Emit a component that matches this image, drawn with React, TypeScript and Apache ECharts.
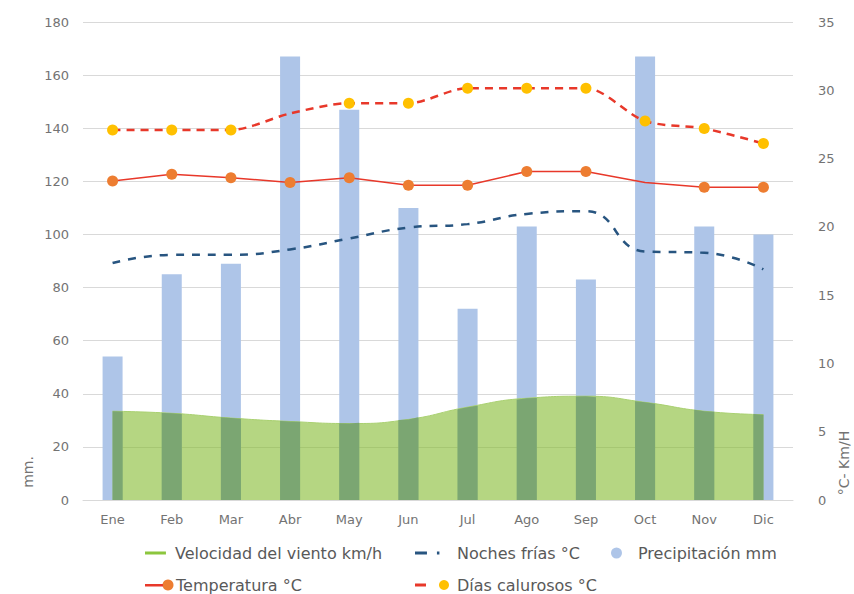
import React, { useEffect, useRef } from "react";
import * as echarts from "echarts";

const months = ["Ene", "Feb", "Mar", "Abr", "May", "Jun", "Jul", "Ago", "Sep", "Oct", "Nov", "Dic"];
const precipitacion = [54, 85, 89, 167, 147, 110, 72, 103, 83, 167, 103, 100];
const viento = [6.5, 6.35, 6.0, 5.75, 5.6, 5.9, 6.8, 7.45, 7.6, 7.15, 6.5, 6.25];
const nochesFrias = [17.35, 17.95, 17.95, 18.35, 19.15, 19.95, 20.2, 20.95, 21.15, 18.2, 18.1, 16.9];
const temperatura = [23.35, 23.85, 23.6, 23.25, 23.6, 23.05, 23.05, 24.05, 24.05, 23.25, 22.9, 22.9];
const diasCalurosos = [27.1, 27.1, 27.1, 28.3, 29.05, 29.05, 30.15, 30.15, 30.15, 27.75, 27.2, 26.1];
const leftTicks = { min: 0, max: 180, interval: 20 };
const rightTicks = { min: 0, max: 35, interval: 5 };

const FONT = "'DejaVu Sans', 'Noto Sans', sans-serif";
const TXT = "#595959";
const TICK = "#737373";

export default function App() {
  const ref = useRef<HTMLDivElement>(null);
  useEffect(() => {
    if (!ref.current) return;
    const chart = echarts.init(ref.current, undefined, { renderer: "svg" });
    const legendCommon = {
      padding: 0,
      selectedMode: false,
      textStyle: { color: TXT, fontSize: 16, fontFamily: FONT, lineHeight: 20 },
    };
    const row1 = 543;
    const row2 = 575;
    const half = 10;
    chart.setOption({
      animation: false,
      textStyle: { fontFamily: FONT },
      grid: { left: 83, right: 61, top: 22, bottom: 94 },
      legend: [
        {
          ...legendCommon,
          left: 145,
          top: row1,
          itemWidth: 25,
          itemHeight: 3,
          data: [
            {
              name: "Velocidad del viento km/h",
              icon: "path://M0,0h21v3h-21z M25,3h0.01v0.01h-0.01z",
              itemStyle: { color: "#8cc63e" },
            },
          ],
        },
        {
          ...legendCommon,
          left: 415,
          top: row1,
          itemWidth: 37,
          itemHeight: 3,
          data: [
            {
              name: "Noches frías °C",
              icon: "path://M0,0h12v3h-12z M22,0h2.5v3h-2.5z M37,3h0.01v0.01h-0.01z",
              itemStyle: { color: "#285580" },
            },
          ],
        },
        {
          ...legendCommon,
          left: 611,
          top: row1,
          itemWidth: 22,
          itemHeight: 11,
          data: [
            {
              name: "Precipitación mm",
              icon: "path://M0,5.5a5.5,5.5 0 1,0 11,0a5.5,5.5 0 1,0 -11,0z M22,11h0.01v0.01h-0.01z",
              itemStyle: { color: "#aec5e8" },
            },
          ],
        },
        {
          ...legendCommon,
          left: 145,
          top: row2,
          itemWidth: 26,
          itemHeight: 11,
          data: [
            {
              name: "Temperatura °C",
              icon: "path://M0,4.5h18v2.5h-18z M0,0h0.01v0.01h-0.01z M26,11h0.01v0.01h-0.01z",
              itemStyle: { color: "#e8382a" },
            },
          ],
        },
        {
          ...legendCommon,
          left: 415,
          top: row2,
          itemWidth: 37,
          itemHeight: 11,
          data: [
            {
              name: "Días calurosos °C",
              icon: "path://M0,4h11v3h-11z M0,0h0.01v0.01h-0.01z M37,11h0.01v0.01h-0.01z",
              itemStyle: { color: "#e8382a" },
            },
          ],
        },
      ],
      xAxis: {
        type: "category",
        data: months,
        axisLine: { lineStyle: { color: "#d9d9d9", width: 1 } },
        axisTick: { show: false },
        axisLabel: { color: TICK, fontSize: 13, margin: 13, fontFamily: FONT },
      },
      yAxis: [
        {
          type: "value",
          ...leftTicks,
          axisLine: { show: false },
          axisTick: { show: false },
          splitLine: { lineStyle: { color: "#d9d9d9", width: 1 } },
          axisLabel: { color: TICK, fontSize: 13, margin: 14, fontFamily: FONT },
        },
        {
          type: "value",
          ...rightTicks,
          position: "right",
          axisLine: { show: false },
          axisTick: { show: false },
          splitLine: { show: false },
          axisLabel: { color: TICK, fontSize: 13, margin: 25, fontFamily: FONT },
        },
      ],
      graphic: [
        {
          type: "text",
          x: 28,
          y: 472,
          rotation: Math.PI / 2,
          style: { text: "mm.", fill: TICK, fontSize: 14, fontFamily: FONT, textAlign: "center", textVerticalAlign: "middle" },
        },
        {
          type: "text",
          x: 844,
          y: 463,
          rotation: Math.PI / 2,
          style: { text: "°C- Km/H", fill: TICK, fontSize: 14, fontFamily: FONT, textAlign: "center", textVerticalAlign: "middle" },
        },
        { type: "circle", x: 168, y: row2 + 10, shape: { r: 5.5 }, style: { fill: "#ed7d31" } },
        { type: "circle", x: 444, y: row2 + 10, shape: { r: 5 }, style: { fill: "#ffc000" } },
      ],
      series: [
        {
          name: "Precipitación mm",
          type: "bar",
          yAxisIndex: 0,
          barWidth: 20,
          data: precipitacion,
          itemStyle: { color: "#aec5e8" },
          z: 1,
        },
        {
          name: "Velocidad del viento km/h",
          type: "line",
          yAxisIndex: 1,
          smooth: true,
          symbol: "none",
          data: viento,
          lineStyle: { color: "#a9d070", width: 1 },
          itemStyle: { color: "#8cc63e" },
          areaStyle: { color: "rgba(132,187,47,0.6)", opacity: 1 },
          z: 2,
        },
        {
          name: "overlap",
          type: "custom",
          yAxisIndex: 1,
          silent: true,
          z: 3,
          data: viento.map((v, i) => [i, v]),
          encode: { x: 0, y: 1 },
          renderItem: (params: any, api: any) => {
            const i = api.value(0);
            const v = api.value(1);
            const c = api.coord([i, v]);
            const base = api.coord([i, 0]);
            const bw = api.size([1, 0])[0];
            const n = viento.length;
            const pts: number[][] = [];
            if (i > 0) {
              const lv = v + ((viento[i - 1] - v) * half) / bw;
              const yl = api.coord([i, lv])[1];
              pts.push([c[0] - half, base[1]], [c[0] - half, yl]);
            } else {
              pts.push([c[0], base[1]]);
            }
            pts.push([c[0], c[1]]);
            if (i < n - 1) {
              const rv = v + ((viento[i + 1] - v) * half) / bw;
              const yr = api.coord([i, rv])[1];
              pts.push([c[0] + half, yr], [c[0] + half, base[1]]);
            } else {
              pts.push([c[0], base[1]]);
            }
            return { type: "polygon", shape: { points: pts }, style: { fill: "#7ba672" } };
          },
        },
        {
          name: "Noches frías °C",
          type: "line",
          yAxisIndex: 1,
          smooth: true,
          symbol: "none",
          data: nochesFrias,
          lineStyle: { color: "#285580", width: 2.5, type: [8, 8] },
          itemStyle: { color: "#285580" },
          z: 4,
        },
        {
          name: "Temperatura °C",
          type: "line",
          yAxisIndex: 1,
          symbol: "circle",
          symbolSize: 11,
          data: temperatura.map((v, i) => (i === 9 ? { value: v, symbol: "none" } : v)),
          lineStyle: { color: "#e8382a", width: 1.5 },
          itemStyle: { color: "#ed7d31" },
          z: 5,
        },
        {
          name: "Días calurosos °C",
          type: "line",
          yAxisIndex: 1,
          smooth: 0.3,
          symbol: "circle",
          symbolSize: 11,
          data: diasCalurosos.map((v, i) => (i === 3 ? { value: v, symbol: "none" } : v)),
          lineStyle: { color: "#e8382a", width: 2.5, type: [8, 6] },
          itemStyle: { color: "#ffc000" },
          z: 6,
        },
      ],
    });
    return () => chart.dispose();
  }, []);
  return <div ref={ref} style={{ width: 854, height: 594, position: "absolute", left: 0, top: 0 }} />;
}
